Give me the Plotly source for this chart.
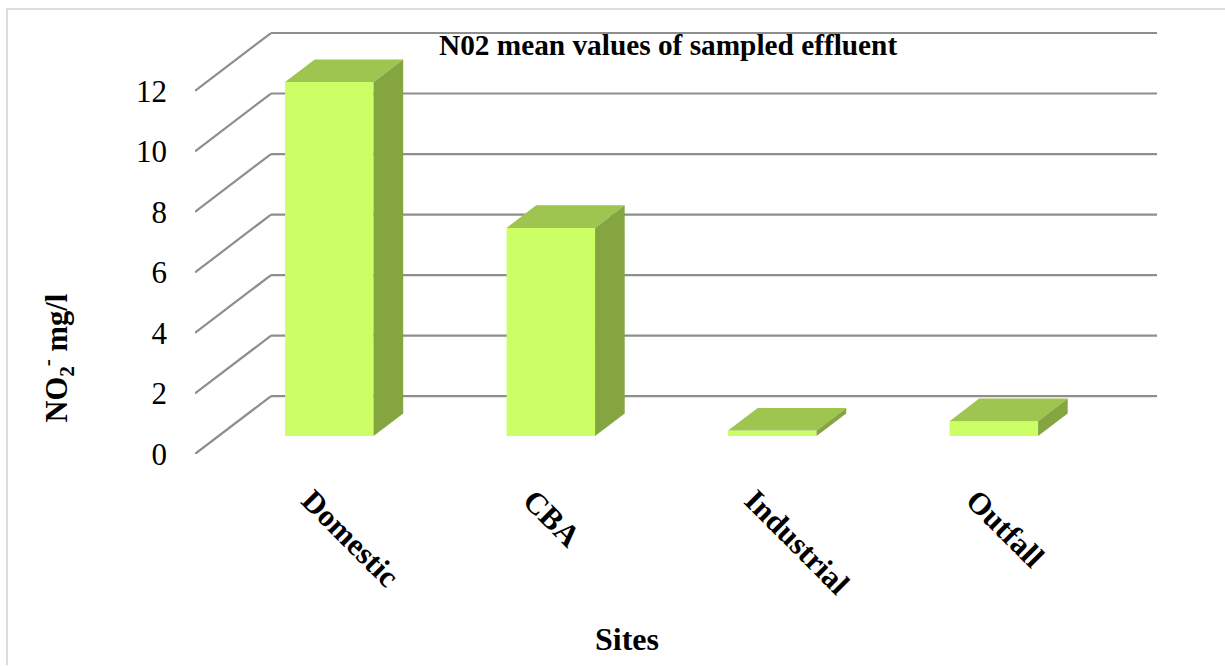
import plotly.graph_objects as go

# Data
categories = ["Domestic", "CBA", "Industrial", "Outfall"]
values = [11.7, 6.88, 0.18, 0.49]
y_ticks = [0, 2, 4, 6, 8, 10, 12]
chart_title = "N02 mean values of sampled effluent"
x_title = "Sites"
y_title = "NO<sub>2</sub><sup>-</sup> mg/l"

# Canvas and plot area, in pixels
WIDTH, HEIGHT = 1225, 666
LEFT, RIGHT, TOP, BOTTOM = 195, 1157, 20, 454.5
PX_PER_CATEGORY = 221.5
PX_PER_VALUE = 30.29

# Oblique projection of the floor depth into axis units
DEPTH_X = 76 / PX_PER_CATEGORY
DEPTH_Y = 58 / PX_PER_VALUE
BAR_FRONT, BAR_BACK = 0.31, 0.70
BAR_WIDTH = 88.5 / PX_PER_CATEGORY

# Rotated category labels sit slightly right of their slot centre
LABEL_SHIFT = 5 / PX_PER_CATEGORY

FONT = "Liberation Serif"
COLOR_FRONT = "#CCFF66"
COLOR_TOP = "#9DC550"
COLOR_SIDE = "#84A540"
COLOR_GRID = "#8E8E8E"
COLOR_FRAME = "#DDDDDD"


def project(x, value, depth):
    return x + depth * DEPTH_X, value + depth * DEPTH_Y


def paper_x(px):
    return (px - LEFT) / (RIGHT - LEFT)


def paper_y(py):
    return (BOTTOM - py) / (BOTTOM - TOP)


positions = list(range(len(categories)))
fig = go.Figure()

# Front faces of the bars, standing on the floor a little behind its front edge
front_x = [project(p, 0, BAR_FRONT)[0] for p in positions]
fig.add_trace(go.Bar(
    x=front_x,
    y=values,
    base=BAR_FRONT * DEPTH_Y,
    width=BAR_WIDTH,
    marker=dict(color=COLOR_FRONT, line=dict(width=0)),
    showlegend=False,
    hoverinfo="skip",
))


def face(corners, color):
    xs, ys = zip(*corners)
    fig.add_trace(go.Scatter(
        x=list(xs) + [xs[0]],
        y=list(ys) + [ys[0]],
        mode="lines",
        fill="toself",
        fillcolor=color,
        line=dict(width=0, color=color),
        showlegend=False,
        hoverinfo="skip",
    ))


# Top and right-hand faces of each bar
for p, v in zip(positions, values):
    x0, x1 = p + BAR_FRONT * DEPTH_X - BAR_WIDTH / 2, p + BAR_FRONT * DEPTH_X + BAR_WIDTH / 2
    base = BAR_FRONT * DEPTH_Y
    top = base + v
    dx = (BAR_BACK - BAR_FRONT) * DEPTH_X
    dy = (BAR_BACK - BAR_FRONT) * DEPTH_Y
    face([(x0, top), (x1, top), (x1 + dx, top + dy), (x0 + dx, top + dy)], COLOR_TOP)
    face([(x1, base), (x1, top), (x1 + dx, top + dy), (x1 + dx, base + dy)], COLOR_SIDE)

# Gridlines: a diagonal on the side wall, then a run along the back wall
x_min = -0.5
x_max = x_min + (RIGHT - LEFT) / PX_PER_CATEGORY
shapes = []
for t in y_ticks:
    back_x, back_y = project(x_min, t, 1)
    for x0, y0, x1, y1 in ((x_min, t, back_x, back_y), (back_x, back_y, x_max, back_y)):
        shapes.append(dict(type="line", xref="x", yref="y", layer="below",
                           x0=x0, y0=y0, x1=x1, y1=y1,
                           line=dict(color=COLOR_GRID, width=2.2)))

# Chart frame, open at the bottom and running off the right edge
shapes.append(dict(
    type="path", xref="paper", yref="paper", layer="below",
    path=f"M {paper_x(7)} {paper_y(HEIGHT)} L {paper_x(7)} {paper_y(9)} L {paper_x(WIDTH)} {paper_y(9)}",
    line=dict(color=COLOR_FRAME, width=2),
))

annotations = [
    dict(text=f"<b>{chart_title}</b>", xref="paper", yref="paper",
         x=paper_x(668), y=paper_y(45), xanchor="center", yanchor="middle", showarrow=False,
         font=dict(family=FONT, size=29.3, color="black")),
    dict(text=f"<b>{x_title}</b>", xref="paper", yref="paper",
         x=paper_x(627), y=paper_y(640), xanchor="center", yanchor="middle", showarrow=False,
         font=dict(family=FONT, size=32, color="black")),
    dict(text=f"<b>{y_title}</b>", xref="paper", yref="paper",
         x=paper_x(57), y=paper_y(359), xanchor="center", yanchor="middle", showarrow=False,
         textangle=-90,
         font=dict(family=FONT, size=30.5, color="black")),
]

fig.update_layout(
    width=WIDTH,
    height=HEIGHT,
    margin=dict(l=LEFT, r=WIDTH - RIGHT, t=TOP, b=HEIGHT - BOTTOM, pad=0),
    paper_bgcolor="white",
    plot_bgcolor="rgba(0,0,0,0)",
    showlegend=False,
    shapes=shapes,
    annotations=annotations,
    xaxis=dict(
        range=[x_min, x_max],
        tickmode="array",
        tickvals=[p + LABEL_SHIFT for p in positions],
        ticktext=[f"<b>{c}</b>" for c in categories],
        tickangle=45,
        ticks="",
        ticklabelstandoff=21,
        showgrid=False,
        zeroline=False,
        showline=False,
        tickfont=dict(family=FONT, size=31, color="black"),
    ),
    yaxis=dict(
        range=[0, (BOTTOM - TOP) / PX_PER_VALUE],
        tickmode="array",
        tickvals=y_ticks,
        ticktext=[str(t) for t in y_ticks],
        ticks="",
        ticklabelstandoff=27,
        showgrid=False,
        zeroline=False,
        showline=False,
        tickfont=dict(family=FONT, size=31, color="black"),
    ),
)

fig.write_html("out.html")
